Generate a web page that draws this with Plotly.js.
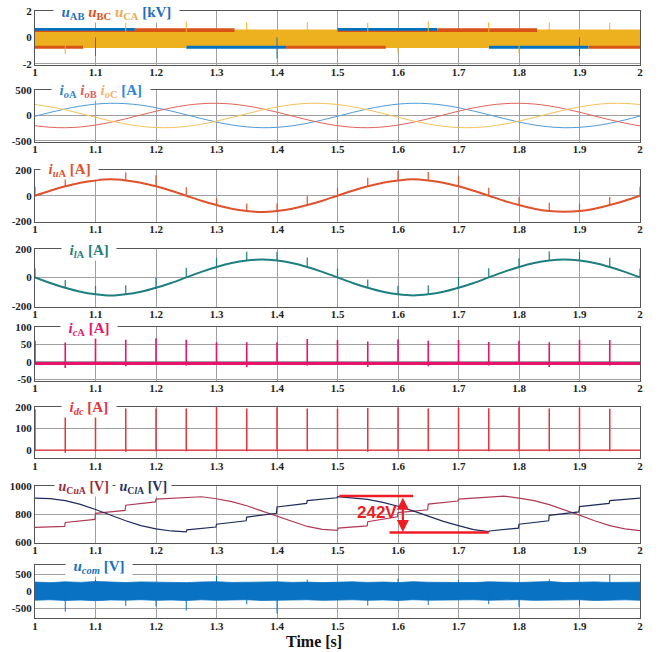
<!DOCTYPE html>
<html><head><meta charset="utf-8">
<script src="https://cdn.plot.ly/plotly-3.0.1.min.js"></script>
<style>html,body{margin:0;padding:0;background:#fff}#chart{width:662px;height:652px}</style>
</head><body><div id="chart"></div><script>
// ---------------- DATA ----------------
const xTickVals = [1,1.1,1.2,1.3,1.4,1.5,1.6,1.7,1.8,1.9,2];
const xTickText = ['1','1.1','1.2','1.3','1.4','1.5','1.6','1.7','1.8','1.9','2'];
const yTickVals = [[-2,0,2],[-500,0,500],[-200,0,200],[-200,0,200],[-50,0,50,100],[0,100,200],[600,800,1000],[-500,0,500]];
const yTickText = [['-2','0','2'],['-500','0','500'],['-200','0','200'],['-200','0','200'],['-50','0','50','100'],['0','100','200'],['600','800','1000'],['-500','0','500']];

const tGrid = [1.000,1.025,1.050,1.075,1.100,1.125,1.150,1.175,1.200,1.225,1.250,1.275,1.300,1.325,1.350,1.375,1.400,1.425,1.450,1.475,1.500,1.525,1.550,1.575,1.600,1.625,1.650,1.675,1.700,1.725,1.750,1.775,1.800,1.825,1.850,1.875,1.900,1.925,1.950,1.975,2.000];

// panel 1: line voltage bands (kV)
const p1T   = [1.0,1.08,1.165,1.25,1.33,1.415,1.5,1.58,1.665,1.75,1.83,1.915,2.0];
const uAB_hi = [0.72,0.72,0.5,0.5,0.5,0.5,0.72,0.72,0.5,0.5,0.5,0.5,0.5];
const uAB_lo = [-0.55,-0.55,-0.55,-0.85,-0.85,-0.55,-0.55,-0.55,-0.55,-0.85,-0.85,-0.55,-0.55];
const uBC_hi = [0.5,0.5,0.7,0.7,0.5,0.5,0.5,0.5,0.7,0.7,0.5,0.5,0.5];
const uBC_lo = [-0.86,-0.55,-0.55,-0.55,-0.55,-0.86,-0.86,-0.55,-0.55,-0.55,-0.55,-0.86,-0.86];
const uCA_hi = [0.42,0.42,0.42,0.42,0.6,0.6,0.42,0.42,0.42,0.42,0.6,0.6,0.6];
const uCA_lo = [-0.62,-0.8,-0.8,-0.62,-0.62,-0.62,-0.62,-0.8,-0.8,-0.62,-0.62,-0.62,-0.62];
const p1SpkT_y = [1.05,1.15,1.25,1.35,1.45,1.55,1.60,1.65,1.75,1.80,1.85,1.95];
const p1SpkV_y = [-1.25,1.1,1.2,1.15,1.15,1.1,-1.2,1.2,1.15,-1.2,1.15,1.1];
const p1SpkT_b = [1.10,1.40,1.90];
const p1SpkV_b = [-1.4,-1.6,-1.4];

// panel 2: output currents (A)
const iOA = [-15,60,129,185,223,240,232,203,153,88,15,-60,-129,-185,-223,-240,-232,-203,-153,-88,-15,60,129,185,223,240,232,203,153,88,15,-60,-129,-185,-223,-240,-232,-203,-153,-88,-10];
const iOB = [-200,-231,-240,-225,-188,-133,-65,10,84,149,200,231,240,225,188,133,65,-10,-84,-149,-200,-231,-240,-225,-188,-133,-65,10,84,149,200,231,240,225,188,133,65,-10,-84,-149,-205];
const iOC = [215,171,111,40,-35,-107,-167,-213,-237,-237,-215,-171,-111,-40,35,107,167,213,237,237,215,171,111,40,-35,-107,-167,-213,-237,-237,-215,-171,-111,-40,35,107,167,213,237,237,215];

// panel 3/4: arm currents (A)
const iUA = [0,39,73,101,119,127,119,101,73,39,0,-39,-73,-101,-119,-128,-119,-101,-73,-39,0,39,73,101,119,128,119,101,73,39,0,-39,-73,-101,-119,-125,-119,-101,-73,-39,0];
const iLA = [0,-39,-73,-101,-119,-128,-119,-101,-73,-39,0,39,73,101,119,126,119,101,73,39,0,-39,-73,-101,-119,-127,-119,-101,-73,-39,0,39,73,101,119,126,119,101,73,39,0];
const spkT = [1.00,1.05,1.10,1.15,1.20,1.25,1.30,1.35,1.40,1.45,1.50,1.55,1.60,1.65,1.70,1.75,1.80,1.85,1.90,1.95,2.00];
const uA_spkLo = [0,73,119,119,73,0,-73,-119,-119,-73,0,73,119,119,73,0,-73,-119,-119,-73,0];
const uA_spkHi = [70,135,185,180,160,65,-20,-60,-60,-5,62,140,192,185,155,62,-12,-56,-60,-10,70];
const lA_spkLo = [0,-73,-119,-119,-73,0,73,119,119,73,0,-73,-119,-119,-73,0,73,119,119,73,0];
const lA_spkHi = [65,-18,-60,-55,0,68,138,180,180,140,62,-15,-58,-55,2,65,135,182,178,138,62];

// panel 5: circulating current (A)
const cA_baseT = [1,2];
const cA_baseV = [-4,-4];
const cA_spkT = [1.00,1.05,1.10,1.15,1.20,1.25,1.30,1.35,1.40,1.45,1.50,1.55,1.60,1.65,1.70,1.75,1.80,1.85,1.90,1.95];
const cA_spkHi = [60,55,67,63,67,63,56,56,56,65,62,58,64,60,62,57,60,56,63,62];
const cA_spkLo = [-8,-17,-8,-12,-8,-10,-8,-15,-8,-10,-8,-14,-8,-12,-8,-10,-8,-14,-8,-10];

// panel 6: dc current (A)
const dc_baseT = [1,2];
const dc_baseV = [0,0];
const dc_spkT = [1.00,1.05,1.10,1.15,1.20,1.25,1.30,1.35,1.40,1.45,1.50,1.55,1.60,1.65,1.70,1.75,1.80,1.85,1.90,1.95];
const dc_spkHi = [188,182,185,192,192,192,197,192,197,192,190,194,196,192,195,193,196,192,195,190];
const dc_spkLo = [-5,-12,-5,-8,-5,-5,-5,-5,-5,-5,-5,-8,-5,-5,-5,-5,-5,-5,-5,-5];

// panel 7: capacitor voltages (V)
const ClA_t = [1.000,1.025,1.050,1.075,1.100,1.125,1.150,1.175,1.200,1.225,1.250,1.251,1.299,1.300,1.349,1.350,1.399,1.400,1.449,1.450,1.499,1.500,1.525,1.550,1.575,1.600,1.625,1.650,1.675,1.700,1.725,1.750,1.751,1.799,1.800,1.849,1.850,1.899,1.900,1.949,1.950,2.000];
const ClA_v = [912,908,895,868,832,792,752,718,695,680,673,688,708,728,752,778,805,850,875,895,915,922,915,903,882,855,822,785,748,718,690,675,680,700,728,752,790,815,852,875,895,912];
const CuA_t = [1.000,1.049,1.050,1.099,1.100,1.149,1.150,1.199,1.200,1.249,1.250,1.275,1.300,1.325,1.350,1.375,1.400,1.425,1.450,1.475,1.500,1.501,1.549,1.550,1.599,1.600,1.649,1.650,1.699,1.700,1.749,1.750,1.775,1.800,1.825,1.850,1.875,1.900,1.925,1.950,1.975,2.000];
const CuA_v = [705,712,740,762,805,825,862,885,905,915,918,922,908,888,858,822,785,745,712,692,684,700,716,745,780,810,830,870,892,905,918,922,926,912,895,866,830,792,752,718,695,682];
const mark242_x = [1.503,1.625,null,1.586,1.75];
const mark242_y = [928,928,null,670,670];
const arrow242 = {t:1.608, top:926, bot:672, labelT:1.565, labelV:808};

// panel 8: common-mode voltage (V)
const comHi = [265,248,272,255,282,258,250,270,256,262,248,266,276,254,262,250,271,256,264,249,260,272,254,266,250,276,259,254,266,250,271,260,253,266,281,249,262,270,254,266,262];
const comLo = [-262,-250,-270,-258,-276,-255,-262,-248,-268,-256,-272,-250,-266,-258,-248,-270,-256,-262,-250,-268,-258,-250,-266,-254,-270,-248,-262,-256,-270,-250,-264,-256,-248,-268,-256,-262,-250,-270,-258,-252,-264];
const comSpkT = [1.05,1.10,1.15,1.20,1.25,1.30,1.35,1.40,1.45,1.55,1.60,1.65,1.70,1.75,1.80,1.85,1.90,1.95];
const comSpkV = [-600,330,-430,-440,-560,440,-380,-650,340,-420,360,-400,330,-380,-460,350,-420,490];

// ---------------- BUILD ----------------
function segs(ts, lo, hi){
  const x=[], y=[];
  ts.forEach((t,i)=>{ x.push(t,t,null); y.push(Array.isArray(lo)?lo[i]:lo, hi[i], null); });
  return {x, y};
}
const ax = n => n===1 ? '' : String(n);
const traces = [];
function add(n, tr){ tr.xaxis='x'+ax(n); tr.yaxis='y'+ax(n); tr.showlegend=false; tr.hoverinfo='skip'; traces.push(tr); }

const C_AB='#0072BD', C_BC='#D95319', C_CA='#EDB120';
// P1
[[uAB_hi,uAB_lo,C_AB],[uBC_hi,uBC_lo,C_BC],[uCA_hi,uCA_lo,C_CA]].forEach(([hi,lo,c])=>{
  add(1,{x:p1T,y:hi,mode:'lines',line:{width:0,shape:'hv',color:c}});
  add(1,{x:p1T,y:lo,mode:'lines',line:{width:0,shape:'hv',color:c},fill:'tonexty',fillcolor:c});
});
let s = segs(p1SpkT_y,0,p1SpkV_y); add(1,{x:s.x,y:s.y,mode:'lines',line:{width:1,color:C_CA}});
s = segs(p1SpkT_b,0,p1SpkV_b); add(1,{x:s.x,y:s.y,mode:'lines',line:{width:1,color:'#3a6f9a'}});
// P2
add(2,{x:tGrid,y:iOA,mode:'lines',line:{width:1,color:'#4f9bd8',shape:'spline'}});
add(2,{x:tGrid,y:iOB,mode:'lines',line:{width:1,color:'#e2625a',shape:'spline'}});
add(2,{x:tGrid,y:iOC,mode:'lines',line:{width:1,color:'#f2c25a',shape:'spline'}});
// P3
const C_UA='#e0522c';
add(3,{x:tGrid,y:iUA,mode:'lines',line:{width:2,color:C_UA,shape:'spline'}});
s = segs(spkT,uA_spkLo,uA_spkHi); add(3,{x:s.x,y:s.y,mode:'lines',line:{width:1.2,color:C_UA}});
// P4
const C_LA='#1f7f80';
add(4,{x:tGrid,y:iLA,mode:'lines',line:{width:2,color:C_LA,shape:'spline'}});
s = segs(spkT,lA_spkLo,lA_spkHi); add(4,{x:s.x,y:s.y,mode:'lines',line:{width:1.2,color:C_LA}});
// P5
const C_CA5='#e8136a';
add(5,{x:cA_baseT,y:cA_baseV,mode:'lines',line:{width:3,color:C_CA5}});
s = segs(cA_spkT,cA_spkLo,cA_spkHi); add(5,{x:s.x,y:s.y,mode:'lines',line:{width:1.6,color:C_CA5}});
// P6
const C_DC='#e8323c';
add(6,{x:dc_baseT,y:dc_baseV,mode:'lines',line:{width:1.3,color:C_DC}});
s = segs(dc_spkT,dc_spkLo,dc_spkHi); add(6,{x:s.x,y:s.y,mode:'lines',line:{width:1.5,color:C_DC}});
// P7
add(7,{x:CuA_t,y:CuA_v,mode:'lines',line:{width:1.2,color:'#b03a55'}});
add(7,{x:ClA_t,y:ClA_v,mode:'lines',line:{width:1.2,color:'#1f2b5c'}});
add(7,{x:mark242_x,y:mark242_y,mode:'lines',line:{width:2.5,color:'#ee1c24'}});
// P8
const C_COM='#0a72c2';
add(8,{x:tGrid,y:comHi,mode:'lines',line:{width:0.8,color:C_COM}});
add(8,{x:tGrid,y:comLo,mode:'lines',line:{width:0.8,color:C_COM},fill:'tonexty',fillcolor:C_COM});
s = segs(comSpkT,0,comSpkV); add(8,{x:s.x,y:s.y,mode:'lines',line:{width:1,color:C_COM}});

// ---------------- LAYOUT ----------------
const W=662, H=652;
const panels = [
  {top:11, bot:65, range:[-2.08,2]},
  {top:90, bot:142, range:[-520,500]},
  {top:170, bot:222, range:[-205,200]},
  {top:249, bot:306.5, range:[-205,200]},
  {top:326.7, bot:380.7, range:[-53,100]},
  {top:406.7, bot:458.3, range:[-38,200]},
  {top:485.7, bot:543, range:[595,1000]},
  {top:565, bot:618.3, range:[-790,762]}
];
const tickFont = {family:'Liberation Serif', size:11, color:'#222', weight:'bold'};
const layout = {
  width:W, height:H, margin:{l:0,r:0,t:0,b:0}, paper_bgcolor:'#fff', plot_bgcolor:'#fff',
  showlegend:false, annotations:[]
};
panels.forEach((p,i)=>{
  const n=i+1;
  layout['xaxis'+ax(n)] = {domain:[35/W,640/W], anchor:'y'+ax(n), range:[1,2], tickvals:xTickVals, ticktext:xTickText,
    showgrid:true, gridcolor:'#a0a0a0', gridwidth:1, zeroline:false, showline:true, mirror:true, linecolor:'#555', linewidth:1,
    ticks:'', ticklabelstandoff:-3, tickfont:tickFont, automargin:false, fixedrange:true};
  layout['yaxis'+ax(n)] = {domain:[1-p.bot/H, 1-p.top/H], anchor:'x'+ax(n), range:p.range, tickvals:yTickVals[i], ticktext:yTickText[i],
    showgrid:true, gridcolor:'#a0a0a0', gridwidth:1, zeroline:false, showline:true, mirror:true, linecolor:'#555', linewidth:1,
    ticks:'', tickfont:tickFont, automargin:false, fixedrange:true};
});
const tf = {family:'Liberation Serif', size:15, weight:'bold'};
const tf7 = {family:'Liberation Serif', size:14, weight:'bold'};
const NB = '\u00a0\u00a0';
function title(cx, cy, text){
  layout.annotations.push({xref:'paper', yref:'paper', x:cx/W, y:1-cy/H, xanchor:'center', yanchor:'middle',
    text:NB+text+NB, showarrow:false, bgcolor:'#fff', borderpad:0, font:tf});
}
const sp=(c,t)=>'<span style="color:'+c+'">'+t+'</span>';
title(116,13, sp('#1f6fc0','<i>u</i><sub>AB</sub>')+' '+sp('#d95319','<i>u</i><sub>BC</sub>')+' '+sp('#f0a850','<i>u</i><sub>CA</sub>')+' '+sp('#1f6fc0','[kV]'));
title(101,91, sp('#2f86d4','<i>i</i><sub><i>o</i>A</sub>')+' '+sp('#e0605a','<i>i</i><sub><i>o</i>B</sub>')+' '+sp('#f4b070','<i>i</i><sub><i>o</i>C</sub>')+' '+sp('#2f86d4','[A]'));
title(69,170, sp('#e0522c','<i>i</i><sub><i>u</i>A</sub> [A]'));
title(89,251, sp('#1f7f80','<i>i</i><sub><i>l</i>A</sub> [A]'));
title(89,329, sp('#e8136a','<i>i</i><sub><i>c</i>A</sub> [A]'));
title(89,408, sp('#e8323c','<i>i</i><sub><i>dc</i></sub> [A]'));
layout.annotations.push({xref:'paper', yref:'paper', x:54/W, y:1-487/H, xanchor:'left', yanchor:'middle',
  text:'\u00a0'+sp('#9b2a3a','<i>u</i><sub>C<i>u</i>A</sub> [V]')+'\u00a0', showarrow:false, bgcolor:'#fff', borderpad:0, font:tf7});
layout.annotations.push({xref:'paper', yref:'paper', x:172/W, y:1-487/H, xanchor:'right', yanchor:'middle',
  text:'\u00a0'+sp('#26305e','<i>u</i><sub>C<i>l</i>A</sub> [V]')+'\u00a0', showarrow:false, bgcolor:'#fff', borderpad:0, font:tf7});
title(99,567, sp('#1a70c0','<i>u</i><sub><i>com</i></sub> [V]'));
layout.annotations.push({xref:'paper', yref:'paper', x:314/W, y:1-641/H, xanchor:'center', yanchor:'middle',
  text:'Time [s]', showarrow:false, font:{family:'Liberation Serif', size:16, weight:'bold', color:'#111'}});
layout.annotations.push({xref:'x7', yref:'y7', x:arrow242.labelT, y:arrow242.labelV, text:'242V', showarrow:false,
  font:{family:'Liberation Sans', size:17, weight:'bold', color:'#ee1c24'}});
layout.annotations.push({xref:'x7', yref:'y7', x:arrow242.t, y:arrow242.bot, axref:'x7', ayref:'y7', ax:arrow242.t, ay:arrow242.top,
  text:'', showarrow:true, arrowside:'end+start', arrowhead:2, arrowsize:1.1, arrowwidth:2.2, arrowcolor:'#ee1c24', standoff:0, startstandoff:0});

Plotly.newPlot('chart', traces, layout, {staticPlot:true, displayModeBar:false});
</script></body></html>
